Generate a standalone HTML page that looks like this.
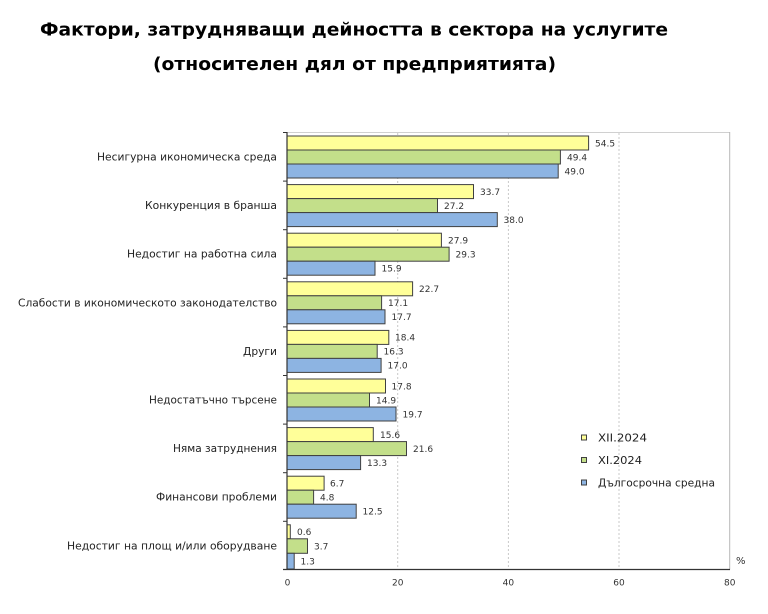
<!DOCTYPE html>
<html><head><meta charset="utf-8"><style>
html,body{margin:0;padding:0;background:#fff;}
svg{display:block;}
</style></head><body>
<svg width="768" height="614" viewBox="0 0 768 614" xmlns="http://www.w3.org/2000/svg" font-family="'DejaVu Sans','Liberation Sans',sans-serif">
<rect width="768" height="614" fill="#fff"/>
<text x="40" y="35.5" font-size="18" font-weight="bold" fill="#000" textLength="628" lengthAdjust="spacingAndGlyphs">Фактори, затрудняващи дейността в сектора на услугите</text>
<text x="153" y="70" font-size="18" font-weight="bold" fill="#000" textLength="403" lengthAdjust="spacingAndGlyphs">(относителен дял от предприятията)</text>

<!-- grid -->
<line x1="287" y1="132.5" x2="729.7" y2="132.5" stroke="#d0d0d0" stroke-width="1"/>
<line x1="729.7" y1="132" x2="729.7" y2="569.5" stroke="#b8b8b8" stroke-width="1"/>
<g stroke="#c8c8c8" stroke-width="1" stroke-dasharray="2,2">
<line x1="397.7" y1="133" x2="397.7" y2="569"/>
<line x1="508.4" y1="133" x2="508.4" y2="569"/>
<line x1="619" y1="133" x2="619" y2="569"/>
</g>

<g stroke="#3a3a3a" stroke-width="1">
<!-- bars -->
<g id="bars"></g>
</g>

<g id="barsg" stroke="#404040" stroke-width="1">
<!-- cat 1 -->
<rect x="287" y="136" width="301.6" height="14" fill="#FFFF99"/>
<rect x="287" y="150" width="273.4" height="14" fill="#C3DF8A"/>
<rect x="287" y="164" width="271.2" height="14" fill="#8DB4E2"/>
<!-- cat 2 -->
<rect x="287" y="184.6" width="186.5" height="14" fill="#FFFF99"/>
<rect x="287" y="198.6" width="150.5" height="14" fill="#C3DF8A"/>
<rect x="287" y="212.6" width="210.3" height="14" fill="#8DB4E2"/>
<!-- cat 3 -->
<rect x="287" y="233.2" width="154.4" height="14" fill="#FFFF99"/>
<rect x="287" y="247.2" width="162.1" height="14" fill="#C3DF8A"/>
<rect x="287" y="261.2" width="88" height="14" fill="#8DB4E2"/>
<!-- cat 4 -->
<rect x="287" y="281.8" width="125.6" height="14" fill="#FFFF99"/>
<rect x="287" y="295.8" width="94.6" height="14" fill="#C3DF8A"/>
<rect x="287" y="309.8" width="98" height="14" fill="#8DB4E2"/>
<!-- cat 5 -->
<rect x="287" y="330.4" width="101.8" height="14" fill="#FFFF99"/>
<rect x="287" y="344.4" width="90.2" height="14" fill="#C3DF8A"/>
<rect x="287" y="358.4" width="94.1" height="14" fill="#8DB4E2"/>
<!-- cat 6 -->
<rect x="287" y="379" width="98.5" height="14" fill="#FFFF99"/>
<rect x="287" y="393" width="82.5" height="14" fill="#C3DF8A"/>
<rect x="287" y="407" width="109" height="14" fill="#8DB4E2"/>
<!-- cat 7 -->
<rect x="287" y="427.6" width="86.3" height="14" fill="#FFFF99"/>
<rect x="287" y="441.6" width="119.5" height="14" fill="#C3DF8A"/>
<rect x="287" y="455.6" width="73.6" height="14" fill="#8DB4E2"/>
<!-- cat 8 -->
<rect x="287" y="476.2" width="37.1" height="14" fill="#FFFF99"/>
<rect x="287" y="490.2" width="26.6" height="14" fill="#C3DF8A"/>
<rect x="287" y="504.2" width="69.2" height="14" fill="#8DB4E2"/>
<!-- cat 9 -->
<rect x="287" y="524.8" width="3.3" height="14" fill="#FFFF99"/>
<rect x="287" y="538.8" width="20.5" height="14.5" fill="#C3DF8A"/>
<rect x="287" y="553.3" width="7.2" height="15.7" fill="#8DB4E2"/>
</g>

<!-- axes -->
<line x1="287" y1="132" x2="287" y2="570" stroke="#333" stroke-width="1.2"/>
<line x1="283" y1="569.5" x2="730" y2="569.5" stroke="#333" stroke-width="1.2"/>
<g stroke="#333" stroke-width="1">
<line x1="283" y1="132.5" x2="287" y2="132.5"/>
<line x1="283" y1="181.1" x2="287" y2="181.1"/>
<line x1="283" y1="229.7" x2="287" y2="229.7"/>
<line x1="283" y1="278.3" x2="287" y2="278.3"/>
<line x1="283" y1="326.9" x2="287" y2="326.9"/>
<line x1="283" y1="375.5" x2="287" y2="375.5"/>
<line x1="283" y1="424.1" x2="287" y2="424.1"/>
<line x1="283" y1="472.7" x2="287" y2="472.7"/>
<line x1="283" y1="521.3" x2="287" y2="521.3"/>
</g>

<!-- value labels -->
<g font-size="9" fill="#333">
<text x="595" y="146.3">54.5</text>
<text x="567" y="160.3">49.4</text>
<text x="564.5" y="174.3">49.0</text>
<text x="480" y="194.9">33.7</text>
<text x="444" y="208.9">27.2</text>
<text x="503.5" y="222.9">38.0</text>
<text x="448" y="243.5">27.9</text>
<text x="455.5" y="257.5">29.3</text>
<text x="381.5" y="271.5">15.9</text>
<text x="419" y="292.1">22.7</text>
<text x="388" y="306.1">17.1</text>
<text x="391.5" y="320.1">17.7</text>
<text x="395" y="340.7">18.4</text>
<text x="383.5" y="354.7">16.3</text>
<text x="387.5" y="368.7">17.0</text>
<text x="391.5" y="389.3">17.8</text>
<text x="376" y="403.3">14.9</text>
<text x="402.5" y="417.3">19.7</text>
<text x="380" y="437.9">15.6</text>
<text x="413" y="451.9">21.6</text>
<text x="367" y="465.9">13.3</text>
<text x="330" y="486.5">6.7</text>
<text x="320" y="500.5">4.8</text>
<text x="362.5" y="514.5">12.5</text>
<text x="297" y="535.1">0.6</text>
<text x="314" y="549.5">3.7</text>
<text x="300.5" y="564.5">1.3</text>
</g>

<!-- category labels -->
<g font-size="10.5" fill="#222" text-anchor="end">
<text x="277" y="160.5" textLength="180" lengthAdjust="spacingAndGlyphs">Несигурна икономическа среда</text>
<text x="277" y="209.1" textLength="132" lengthAdjust="spacingAndGlyphs">Конкуренция в бранша</text>
<text x="277" y="257.7" textLength="150" lengthAdjust="spacingAndGlyphs">Недостиг на работна сила</text>
<text x="277" y="306.3" textLength="259" lengthAdjust="spacingAndGlyphs">Слабости в икономическото законодателство</text>
<text x="277" y="354.9" textLength="34" lengthAdjust="spacingAndGlyphs">Други</text>
<text x="277" y="403.5" textLength="128" lengthAdjust="spacingAndGlyphs">Недостатъчно търсене</text>
<text x="277" y="452.1" textLength="104" lengthAdjust="spacingAndGlyphs">Няма затруднения</text>
<text x="277" y="500.7" textLength="121" lengthAdjust="spacingAndGlyphs">Финансови проблеми</text>
<text x="277" y="549.3" textLength="210" lengthAdjust="spacingAndGlyphs">Недостиг на площ и/или оборудване</text>
</g>

<!-- x tick labels -->
<g font-size="9" fill="#333" text-anchor="middle">
<text x="287.5" y="585.5">0</text>
<text x="397.7" y="585.5">20</text>
<text x="508.4" y="585.5">40</text>
<text x="619" y="585.5">60</text>
<text x="729.7" y="585.5">80</text>
</g>
<text x="736" y="564" font-size="10" fill="#333">%</text>

<!-- legend -->
<g stroke="#404040" stroke-width="1">
<rect x="581.5" y="435" width="5" height="5" fill="#FFFF99"/>
<rect x="581.5" y="457.5" width="5" height="5" fill="#C3DF8A"/>
<rect x="581.5" y="480" width="5" height="5" fill="#8DB4E2"/>
</g>
<g font-size="10.5" fill="#222">
<text x="598" y="441.3" textLength="49" lengthAdjust="spacingAndGlyphs">XII.2024</text>
<text x="598" y="464" textLength="44" lengthAdjust="spacingAndGlyphs">XI.2024</text>
<text x="598" y="486.3" textLength="117" lengthAdjust="spacingAndGlyphs">Дългосрочна средна</text>
</g>
</svg>
</body></html>
